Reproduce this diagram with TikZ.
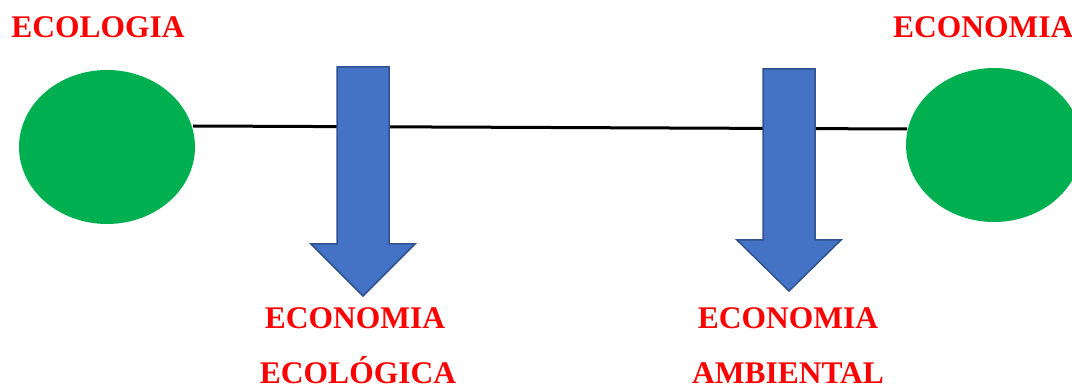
\documentclass[tikz,border=0pt]{standalone}
\usepackage{fontspec}
\setmainfont{Liberation Serif}
\usetikzlibrary{shapes.geometric}
\definecolor{circgreen}{RGB}{0,176,80}
\definecolor{arrblue}{RGB}{68,114,196}
\definecolor{arrline}{RGB}{47,82,143}
\begin{document}
\begin{tikzpicture}[x=1pt, y=-1pt]
\tikzset{blob/.style={ellipse, fill=circgreen, minimum width=176pt, minimum height=154pt, inner sep=0pt}}
\tikzset{word/.style={text=red, font=\fontsize{31.5}{36}\selectfont\bfseries, inner sep=0pt}}
\tikzset{bigarrow/.style={fill=arrblue, draw=arrline, line width=1.5pt, line join=miter}}
\useasboundingbox (0,0) rectangle (1072,387);
\clip (0,0) rectangle (1072,387);

\coordinate (l0) at (193,126);
\coordinate (l1) at (907,129);
\draw[line width=3pt] (l0) -- (l1);

\node[blob] (ecol) at (107,147) {};
\node[blob] (econ) at (994,145) {};

% arrows
\draw[bigarrow] (337,67) -- (389,67) -- (389,244) -- (415,244) -- (363,296) -- (311,244) -- (337,244) -- cycle;
\draw[bigarrow] (763,69) -- (815,69) -- (815,240) -- (841,240) -- (789,291) -- (737,240) -- (763,240) -- cycle;

\node[word, anchor=base] (tecol) at (98,38) {ECOLOGIA};
\node[word, anchor=base west] (tecon) at (893,38) {ECONOMIA};
\node[word, anchor=base] (t1a) at (355,329) {ECONOMIA};
\node[word, anchor=base] (t1b) at (358,384) {ECOLÓGICA};
\node[word, anchor=base] (t2a) at (788,329) {ECONOMIA};
\node[word, anchor=base] (t2b) at (788,384) {AMBIENTAL};
\end{tikzpicture}
\end{document}
